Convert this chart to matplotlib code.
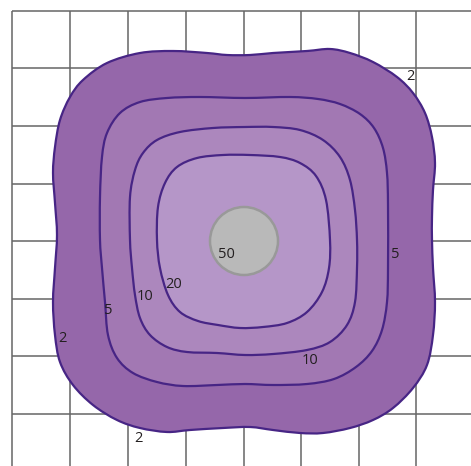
import numpy as np
import matplotlib.pyplot as plt
from matplotlib.path import Path
from matplotlib.patches import PathPatch, Circle

# grid line positions (pixels)
grid_x = [12, 70, 128, 186, 244, 301, 359, 416]
grid_y = [10.5, 68, 126, 184, 241, 299, 356, 414]

# contour outlines (pixel coords, y down)
c2_x = [57, 55, 53, 55, 60, 70, 83, 107, 140, 173, 207, 227, 250, 273, 307, 330, 350, 373, 397, 413, 425, 432, 435,
        433, 432, 432, 433, 435, 433, 427, 413, 393, 373, 350, 323, 300, 273, 250, 223, 190, 167, 140, 117, 93, 73,
        60, 55, 53, 55]
c2_y = [235, 203, 173, 147, 120, 97, 80, 63, 53, 51, 53, 55, 55, 53, 51, 49, 53, 62, 77, 93, 113, 137, 163,
        190, 217, 240, 268, 302, 335, 365, 388, 408, 420, 428, 433, 433, 430, 427, 428, 430, 432, 428, 420, 405, 385,
        362, 335, 302, 268]

c5_x = [100, 100, 102, 107, 120, 140, 167, 200, 245, 290, 318, 340, 360, 374, 383, 387, 388, 388, 387, 382,
        372, 356, 334, 307, 273, 245, 217, 183, 157, 133, 117, 108, 105, 102]
c5_y = [240, 197, 157, 133, 113, 102, 98, 97, 98, 97, 99, 104, 114, 128, 148, 173, 205, 268, 302, 330,
        351, 367, 379, 384, 385, 384, 385, 386, 382, 373, 358, 335, 302, 268]

c10_x = [130, 130, 135, 143, 157, 180, 213, 245, 273, 300, 323, 340, 350, 355, 357, 357, 355, 347, 330, 307, 273, 245,
         217, 187, 167, 150, 140, 135, 132]
c10_y = [240, 197, 170, 153, 140, 132, 128, 127, 127, 130, 140, 157, 180, 210, 240, 268, 302, 325, 342, 350, 354, 355,
         353, 352, 347, 335, 318, 295, 268]

c20_x = [157, 158, 165, 177, 197, 223, 250, 280, 300, 316, 326, 330, 329, 322, 307, 287, 263, 240, 218, 198, 180,
         168, 160]
c20_y = [240, 207, 183, 167, 158, 155, 155, 157, 163, 176, 200, 240, 268, 292, 312, 323, 327, 328, 325, 321, 312,
         295, 268]

fills = ['#9567aa', '#a278b3', '#ac87bd', '#b596c8']

labels = ['2', '5', '2', '5', '10', '20', '50', '10', '2']
lab_x = [410, 395, 62, 108, 145, 174, 226, 310, 138]
lab_y = [77, 254, 338, 310, 296, 284, 254, 360, 438]


def smooth_path(xs, ys):
    # closed Catmull-Rom curve written as cubic bezier segments
    p = np.column_stack([xs, ys]).astype(float)
    n = len(p)
    verts = [p[0]]
    codes = [Path.MOVETO]
    for i in range(n):
        p0, p1, p2, p3 = p[i - 1], p[i], p[(i + 1) % n], p[(i + 2) % n]
        verts += [p1 + (p2 - p0) / 6, p2 - (p3 - p1) / 6, p2]
        codes += [Path.CURVE4] * 3
    return Path(verts, codes)


fig = plt.figure(figsize=(4.71, 4.66), dpi=100)
ax = fig.add_axes([0, 0, 1, 1])
ax.set_xlim(0, 471)
ax.set_ylim(466, 0)
ax.axis('off')

ax.vlines(grid_x, grid_y[0], 466, color='#666666', lw=1.1, zorder=1)
ax.hlines(grid_y, grid_x[0], 471, color='#666666', lw=1.1, zorder=1)

for (xs, ys), fc in zip([(c2_x, c2_y), (c5_x, c5_y), (c10_x, c10_y), (c20_x, c20_y)], fills):
    ax.add_patch(PathPatch(smooth_path(xs, ys), facecolor=fc, edgecolor='#472585', lw=1.6, zorder=2))

ax.add_patch(Circle((244, 241), 34, facecolor='#b9b9b9', edgecolor='#999999', lw=1.8, zorder=3))

for t, x, y in zip(labels, lab_x, lab_y):
    ax.text(x, y, t, ha='center', va='center', fontsize=10.5, color='#231f20', zorder=4,
            family=['Open Sans', 'DejaVu Sans'])

fig.savefig('out.png', dpi=100)
